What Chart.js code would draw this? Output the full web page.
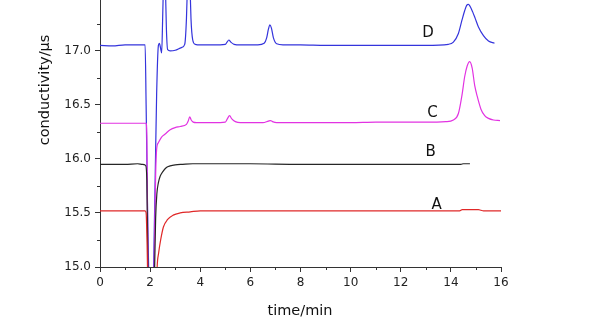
<!DOCTYPE html>
<html>
<head>
<meta charset="utf-8">
<script src="https://cdn.jsdelivr.net/npm/chart.js@4/dist/chart.umd.min.js"></script>
<style>
  html, body { margin: 0; padding: 0; background: #ffffff; }
  #wrap { width: 593px; height: 324px; }
</style>
</head>
<body>
<div id="wrap"><canvas id="c" width="593" height="324"></canvas></div>
<script>
// ---- data ----
const aTime  = [0, 1.0, 1.8, 1.84, 1.88, 1.95, 2.1, 2.22, 2.28, 2.34, 2.42, 2.53, 2.7, 2.92, 3.2, 3.6, 4.0, 5, 6, 7, 8, 9, 10, 11, 12, 13, 14, 14.35, 14.45, 15.1, 15.2, 15.3, 16];
const aValue = [15.52, 15.52, 15.52, 15.50, 15.2, 14.3, 14.2, 14.5, 15.0, 15.13, 15.25, 15.37, 15.44, 15.48, 15.50, 15.51, 15.52, 15.52, 15.52, 15.52, 15.52, 15.52, 15.52, 15.52, 15.52, 15.52, 15.52, 15.52, 15.53, 15.53, 15.525, 15.52, 15.52];

const bTime  = [0, 1.0, 1.5, 1.7, 1.82, 1.87, 1.92, 2.0, 2.12, 2.18, 2.22, 2.27, 2.33, 2.4, 2.5, 2.65, 2.8, 3.0, 3.3, 3.7, 4.0, 6, 8, 10, 12, 14, 14.4, 14.5, 14.76];
const bValue = [15.95, 15.95, 15.955, 15.95, 15.94, 15.8, 14.8, 14.3, 14.6, 15.0, 15.45, 15.68, 15.78, 15.84, 15.88, 15.92, 15.935, 15.945, 15.95, 15.955, 15.955, 15.955, 15.95, 15.95, 15.95, 15.95, 15.95, 15.955, 15.955];

const cTime  = [0, 1.0, 1.84, 1.87, 1.92, 2.0, 2.12, 2.18, 2.22, 2.26, 2.33, 2.45, 2.6, 2.8, 3.0, 3.2, 3.45, 3.52, 3.58, 3.64, 3.72, 3.85, 4.5, 5.0, 5.08, 5.17, 5.26, 5.4, 5.6, 6.5, 6.72, 6.8, 6.88, 7.05, 8, 9, 10, 11, 12, 13, 13.8, 14.1, 14.3, 14.45, 14.55, 14.65, 14.75, 14.85, 14.95, 15.05, 15.2, 15.35, 15.5, 15.7, 15.96];
const cValue = [16.33, 16.33, 16.33, 16.2, 14.8, 14.3, 14.5, 15.3, 15.85, 16.09, 16.15, 16.2, 16.23, 16.27, 16.29, 16.3, 16.32, 16.35, 16.39, 16.36, 16.34, 16.335, 16.335, 16.34, 16.37, 16.40, 16.37, 16.345, 16.335, 16.335, 16.35, 16.355, 16.345, 16.335, 16.335, 16.335, 16.335, 16.34, 16.34, 16.34, 16.345, 16.36, 16.42, 16.6, 16.76, 16.86, 16.90, 16.84, 16.68, 16.58, 16.46, 16.40, 16.375, 16.36, 16.355];

const dTime  = [0, 0.5, 1.0, 1.5, 1.8, 1.84, 1.9, 1.94, 2.0, 2.1, 2.14, 2.2, 2.26, 2.33, 2.37, 2.42, 2.46, 2.5, 2.53, 2.57, 2.61, 2.65, 2.7, 2.8, 3.0, 3.25, 3.38, 3.45, 3.5, 3.54, 3.58, 3.63, 3.7, 3.8, 4.0, 4.5, 5.0, 5.07, 5.14, 5.22, 5.35, 5.6, 6.3, 6.55, 6.65, 6.72, 6.78, 6.84, 6.92, 7.05, 7.3, 8, 9, 10, 11, 12, 13, 13.9, 14.1, 14.3, 14.45, 14.55, 14.63, 14.7, 14.77, 14.87, 14.97, 15.1, 15.3, 15.5, 15.74];
const dValue = [17.05, 17.045, 17.055, 17.055, 17.055, 16.5, 15.5, 15.0, 14.3, 14.5, 15.0, 15.8, 16.6, 17.05, 17.07, 17.02, 16.98, 17.3, 17.6, 17.9, 17.6, 17.2, 17.01, 17.0, 17.005, 17.03, 17.06, 17.3, 17.7, 18.0, 17.7, 17.3, 17.1, 17.06, 17.055, 17.055, 17.06, 17.08, 17.1, 17.08, 17.06, 17.055, 17.055, 17.07, 17.12, 17.2, 17.24, 17.21, 17.12, 17.065, 17.055, 17.055, 17.05, 17.05, 17.05, 17.05, 17.05, 17.06, 17.08, 17.16, 17.29, 17.37, 17.42, 17.43, 17.41, 17.36, 17.30, 17.22, 17.14, 17.09, 17.07];

const seriesNames = ['A', 'B', 'C', 'D'];
const labelTime   = [13.43, 13.19, 13.27, 13.09];
const labelValue  = [15.572, 16.063, 16.42, 17.168];

const xMajorTicks = [0, 2, 4, 6, 8, 10, 12, 14, 16];
const xMinorTicks = [1, 3, 5, 7, 9, 11, 13, 15];
const yMinorTicks = [15.25, 15.75, 16.25, 16.75, 17.25];

const xTitle = 'time/min';
const yTitle = 'conductivity/μs';

// ---- build ----
function pts(t, v) { return t.map((x, i) => ({ x: x, y: v[i] })); }
const FONT = '"DejaVu Sans", sans-serif';

const series = [
  { name: 'A', data: pts(aTime, aValue), color: '#e02828' },
  { name: 'B', data: pts(bTime, bValue), color: '#262626' },
  { name: 'C', data: pts(cTime, cValue), color: '#e233e2' },
  { name: 'D', data: pts(dTime, dValue), color: '#3434dc' }
];

const extras = {
  id: 'extras',
  afterDraw(chart) {
    const ctx = chart.ctx;
    const xs = chart.scales.x, ys = chart.scales.y;
    const area = chart.chartArea;
    ctx.save();
    ctx.strokeStyle = '#333';
    ctx.lineWidth = 1;
    ctx.beginPath();
    xMinorTicks.forEach(v => {
      const px = Math.round(xs.getPixelForValue(v)) + 0.5;
      ctx.moveTo(px, area.bottom);
      ctx.lineTo(px, area.bottom + 3);
    });
    yMinorTicks.forEach(v => {
      const py = Math.round(ys.getPixelForValue(v)) + 0.5;
      ctx.moveTo(area.left, py);
      ctx.lineTo(area.left - 3, py);
    });
    ctx.stroke();

    // series letters
    ctx.fillStyle = '#111';
    ctx.font = '15px ' + FONT;
    ctx.textAlign = 'center';
    ctx.textBaseline = 'middle';
    seriesNames.forEach((n, i) => {
      ctx.fillText(n, xs.getPixelForValue(labelTime[i]), ys.getPixelForValue(labelValue[i]));
    });

    // axis titles
    ctx.font = '14.5px ' + FONT;
    ctx.textBaseline = 'alphabetic';
    ctx.fillText(xTitle, 300, 315);
    ctx.translate(45, 90);
    ctx.rotate(-Math.PI / 2);
    ctx.textBaseline = 'middle';
    ctx.fillText(yTitle, 0, 0);
    ctx.restore();
  }
};

new Chart(document.getElementById('c'), {
  type: 'line',
  data: {
    datasets: series.map(s => ({
      label: s.name,
      data: s.data,
      borderColor: s.color,
      backgroundColor: s.color,
      borderWidth: 1.2,
      pointRadius: 0,
      fill: false,
      cubicInterpolationMode: 'monotone'
    }))
  },
  options: {
    responsive: false,
    animation: false,
    devicePixelRatio: 1,
    layout: { padding: { left: 0, right: 92, top: 0, bottom: 0 } },
    plugins: { legend: { display: false }, tooltip: { enabled: false } },
    scales: {
      x: {
        type: 'linear',
        min: 0, max: 16,
        afterBuildTicks: s => { s.ticks = xMajorTicks.map(v => ({ value: v })); },
        ticks: { font: { family: FONT, size: 12 }, color: '#222', padding: 4, maxRotation: 0, autoSkip: false },
        grid: { drawOnChartArea: false, tickLength: 5, tickColor: '#333' },
        border: { color: '#333', width: 1 },
        afterFit: s => { s.height = 57; s.paddingLeft = 0; s.paddingRight = 0; }
      },
      y: {
        type: 'linear',
        min: 15, max: 17.47,
        ticks: { stepSize: 0.5, includeBounds: false, callback: v => Number(v).toFixed(1), font: { family: FONT, size: 12 }, color: '#222', padding: 4 },
        grid: { drawOnChartArea: false, tickLength: 5, tickColor: '#333' },
        border: { color: '#333', width: 1 },
        afterFit: s => { s.width = 100; s.paddingTop = 0; s.paddingBottom = 0; }
      }
    }
  },
  plugins: [extras]
});
</script>
</body>
</html>
